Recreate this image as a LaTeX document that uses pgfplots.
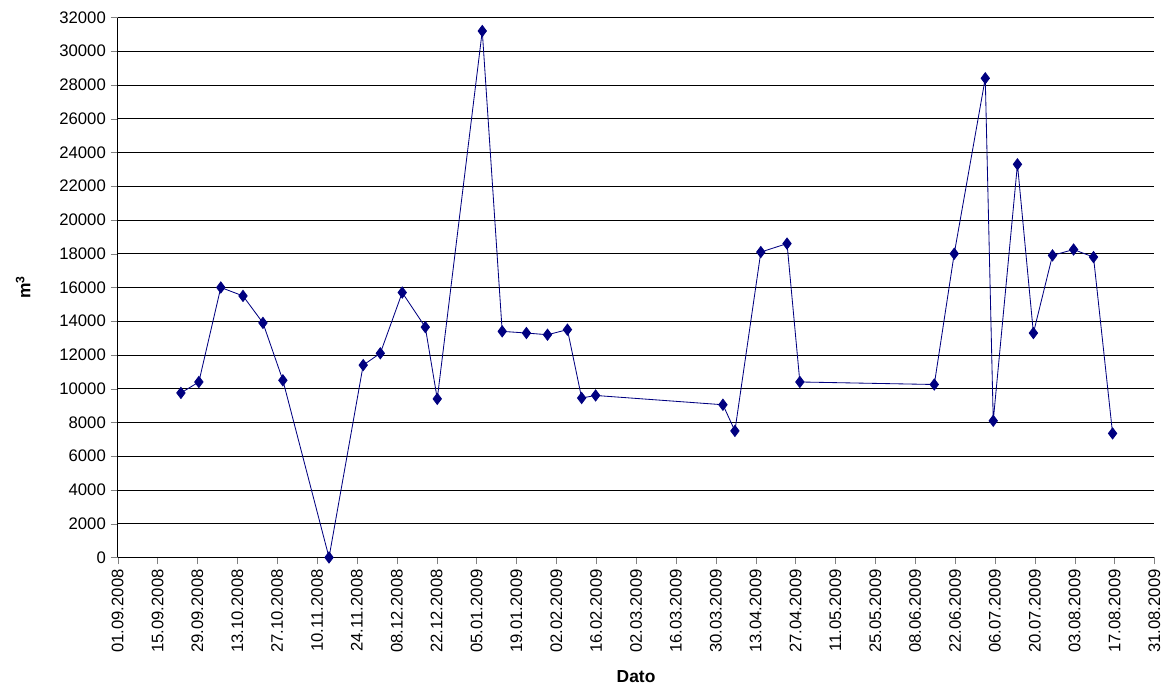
\documentclass[border=0pt]{standalone}
\usepackage{pgfplots}
\pgfplotsset{compat=1.18}
\usepackage{fontspec}
\setmainfont{Liberation Sans}
\definecolor{navy}{RGB}{0,0,128}
\begin{document}
\begin{tikzpicture}
\begin{axis}[
  scale only axis, width=745pt, height=388pt,
  xmin=0, xmax=364, ymin=0, ymax=32000,
  axis lines*=left, axis line style={-},
  xtick={0,14,...,364},
  xticklabels={01.09.2008,15.09.2008,29.09.2008,13.10.2008,27.10.2008,10.11.2008,24.11.2008,08.12.2008,22.12.2008,05.01.2009,19.01.2009,02.02.2009,16.02.2009,02.03.2009,16.03.2009,30.03.2009,13.04.2009,27.04.2009,11.05.2009,25.05.2009,08.06.2009,22.06.2009,06.07.2009,20.07.2009,03.08.2009,17.08.2009,31.08.2009},
  xticklabel style={rotate=90, anchor=east, font=\fontsize{12}{14}\selectfont},
  ytick={0,2000,...,32000},
  yticklabel style={font=\fontsize{12}{14}\selectfont},
  /pgf/number format/assume math mode=true,
  scaled y ticks=false,
  /pgf/number format/set thousands separator={},
  ymajorgrids, grid style={black, thin},
  tick align=outside, major tick length=5pt,
  xlabel={\textbf{Dato}}, ylabel={\textbf{m\textsuperscript{3}}},
  label style={font=\fontsize{12.5}{15}\selectfont},
  ylabel style={yshift=14pt},
  xlabel style={yshift=-6pt},
]
\addplot[navy, semithick, mark=diamond*, mark size=4pt, mark options={fill=navy}] coordinates {
(22.2,9750)(28.5,10400)(36.2,16000)(44,15500)(51,13900)(58,10500)(74.2,0)
(86.2,11400)(92.2,12100)(99.9,15700)(108,13650)(112.2,9400)(128,31200)
(135,13400)(143.5,13300)(150.9,13200)(157.9,13500)(162.9,9450)(167.8,9600)
(212.5,9050)(216.7,7500)(225.8,18100)(235,18600)(239.5,10400)(286.7,10250)
(293.7,18000)(304.6,28400)(307.4,8100)(315.9,23300)(321.5,13300)(328.2,17900)
(335.6,18250)(342.6,17800)(349.3,7350)};
\end{axis}
\path (current bounding box.north west) ++(-8pt,5pt) coordinate (a);
\path (current bounding box.south east) ++(0,-4pt) coordinate (b);
\useasboundingbox (a) rectangle (b);
\end{tikzpicture}
\end{document}
